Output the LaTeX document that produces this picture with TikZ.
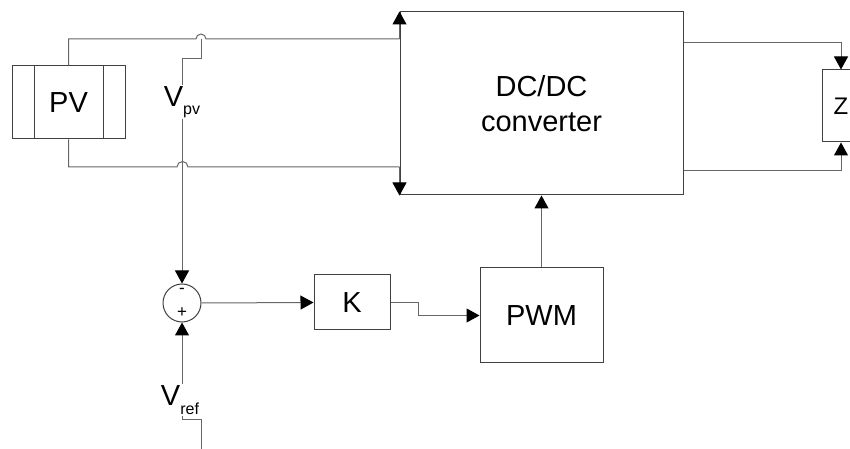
\documentclass[tikz,border=0pt]{standalone}
\usepackage{fontspec}
\setmainfont{Liberation Sans}
\usetikzlibrary{arrows.meta}

\begin{document}
\begin{tikzpicture}[x=1pt,y=1pt,
  box/.style={shape=rectangle,draw=black!75,line width=1pt,align=center,inner sep=0pt,font=\fontsize{29}{35}\selectfont},
  wire/.style={draw=black!60,line width=1pt},
  arr/.style={-{Triangle[length=13pt,width=14pt,color=black]}},
  lbl/.style={inner sep=1pt,font=\fontsize{29}{35}\selectfont},
  sign/.style={inner sep=0pt,font=\fontsize{17}{19}\selectfont}]
\useasboundingbox (0,0) rectangle (850,449);
\clip (0,0) rectangle (850,449);

\node[box,minimum width=113pt,minimum height=73pt] (pv) at (68.5,346.5) {PV};
\node[box,minimum width=283pt,minimum height=183pt] (dc) at (541.5,345.5) {DC/DC\\converter};
\node[box,minimum width=38pt,minimum height=72pt,font=\fontsize{24}{28}\selectfont] (z) at (841,343) {Z};
\node[box,minimum width=76pt,minimum height=55pt] (k) at (352,146.5) {K};
\node[box,minimum width=123pt,minimum height=95pt] (pwm) at (541.5,133.5) {PWM};
\node[shape=circle,draw=black!75,line width=1pt,minimum size=38pt,inner sep=0pt] (sum) at (182,146) {};
\node[sign] (minus) at ([yshift=12pt]sum.center) {-};
\node[sign] (plus) at ([yshift=-10pt]sum.center) {+};
\node[lbl] (vpv) at (182,347) {V\raisebox{-8pt}{\fontsize{16}{18}\selectfont pv}};
\node[lbl] (vref) at (180,49) {V\raisebox{-9pt}{\fontsize{16}{18}\selectfont ref}};

\coordinate (hopT) at (201,410);
\coordinate (hopB) at (182.5,282);

% PV panel cells
\draw[draw=black!75,line width=1pt] ([xshift=23pt]pv.north west) -- ([xshift=23pt]pv.south west);
\draw[draw=black!75,line width=1pt] ([xshift=-22pt]pv.north east) -- ([xshift=-22pt]pv.south east);

% power lines
\draw[wire] (pv.north) |- ([xshift=-5pt]hopT) arc[start angle=180,end angle=0,radius=5pt] -- (dc.west |- hopT);
\draw[wire] (pv.south) |- ([xshift=-5.5pt]hopB) arc[start angle=180,end angle=0,radius=5.5pt] -- (dc.west |- hopB);
\draw[wire,arr] (dc.west |- hopT) -- (dc.north west);
\draw[wire,arr] (dc.west |- hopB) -- (dc.south west);
\draw[wire,arr] ([yshift=60.5pt]dc.east) -| (z.north);
\draw[wire,arr] ([yshift=-67.5pt]dc.east) -| (z.south);

% control loop
\draw[wire] (hopT) -- ++(0,-20) -| (vpv.north);
\draw[wire,arr] (vpv.south) -- (sum.north);
\draw[wire,arr] (vref.north -| sum.south) -- (sum.south);
\draw[wire] (vref.south -| sum.south) |- ++(19,-4) -- ++(0,-30);
\draw[wire,arr] (sum.east) -- (k.west);
\draw[wire,arr] (k.east) -- ++(28,0) |- (pwm.west);
\draw[wire,arr] (pwm.north) -- (dc.south);
\end{tikzpicture}
\end{document}
